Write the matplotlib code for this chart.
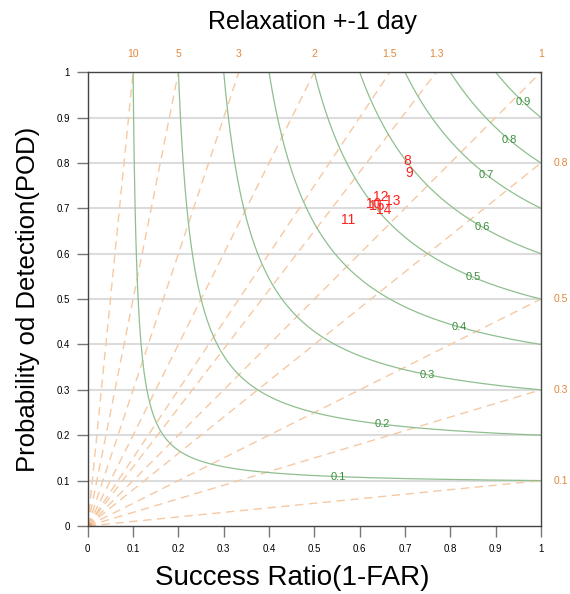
import numpy as np
import matplotlib
matplotlib.use("Agg")
import matplotlib.pyplot as plt

plt.rcParams['font.family'] = ['Liberation Sans', 'DejaVu Sans']

# performance diagram values
csi_levels = [0.1, 0.2, 0.3, 0.4, 0.5, 0.6, 0.7, 0.8, 0.9]
csi_label_x = [0.552, 0.649, 0.75, 0.82, 0.85, 0.87, 0.88, 0.93, 0.96]
bias_top = [10, 5, 3, 2, 1.5, 1.3, 1]
bias_right = [0.8, 0.5, 0.3, 0.1]

# points (success ratio, POD) labelled by number
pt_labels = ['8', '9', '10', '11', '12', '13', '14', '15']
pt_sr = [0.704, 0.709, 0.631, 0.574, 0.646, 0.672, 0.653, 0.637]
pt_pod = [0.804, 0.778, 0.710, 0.674, 0.724, 0.716, 0.696, 0.705]

green = '#8fbf8f'
green_txt = '#3f8f3f'
peach = '#f5c9a3'
orange_txt = '#e0883a'

fig = plt.figure(figsize=(5.70, 5.94), dpi=100)
ax = fig.add_axes([0.154, 0.1145, 0.795, 0.764])
ax.set_xlim(0, 1)
ax.set_ylim(0, 1)

# horizontal grid
for y in np.arange(0.1, 1.0, 0.1):
    ax.axhline(y, color='#dcdcdc', lw=1.5, zorder=0)

# bias lines
for b in bias_top + bias_right:
    xs = np.array([0, 1.0])
    ax.plot(xs, b * xs, color=peach, lw=1.0, ls=(0, (6, 4)), zorder=1)
ax.plot([0], [0], 'o', color='#f0a060', ms=5, alpha=0.7, zorder=1)

# CSI curves
sr = np.linspace(0.01, 1, 600)
for c, lx in zip(csi_levels, csi_label_x):
    denom = 1.0 / c - 1.0 / sr + 1.0
    pod = np.where(denom > 0, 1.0 / np.where(denom > 0, denom, 1), np.nan)
    pod[pod > 1.2] = np.nan
    ax.plot(sr, pod, color=green, lw=0.9, zorder=2)
    ly = 1.0 / (1.0 / c - 1.0 / lx + 1.0)
    ax.text(lx, ly, f'{c:g}', color=green_txt, fontsize=8, ha='center', va='center', zorder=3)

# points
for lab, x, y in zip(pt_labels, pt_sr, pt_pod):
    ax.text(x, y, lab, color='#ff2020', fontsize=10, ha='center', va='center', zorder=4)

# ticks
ticks = np.round(np.arange(0, 1.01, 0.1), 1)
ticklabs = ['0'] + [f'{t:g}' for t in ticks[1:-1]] + ['1']
ax.set_xticks(ticks)
ax.set_xticklabels(ticklabs)
ax.set_yticks(ticks)
ax.set_yticklabels(ticklabs)
ax.tick_params(direction='out', length=8, width=1, color='#777777', labelsize=7, pad=5)
for s in ax.spines.values():
    s.set_color('#444444')
    s.set_linewidth(1.0)

for b in bias_top:
    ax.text(1.0 / b, 1.03, f'{b:g}', color=orange_txt, fontsize=7.5, ha='center', va='bottom',
            transform=ax.transAxes)
for b in bias_right:
    ax.text(1.028, b, f'{b:g}', color=orange_txt, fontsize=7.5, ha='left', va='center',
            transform=ax.transAxes)

fig.text(0.512, 0.027, 'Success Ratio(1-FAR)', fontsize=20, ha='center', va='center')
ax.set_ylabel('Probability od Detection(POD)', fontsize=18.5, labelpad=12)
fig.text(0.548, 0.963, 'Relaxation +-1 day', fontsize=18, ha='center', va='center')

fig.savefig('out.png', dpi=100)
